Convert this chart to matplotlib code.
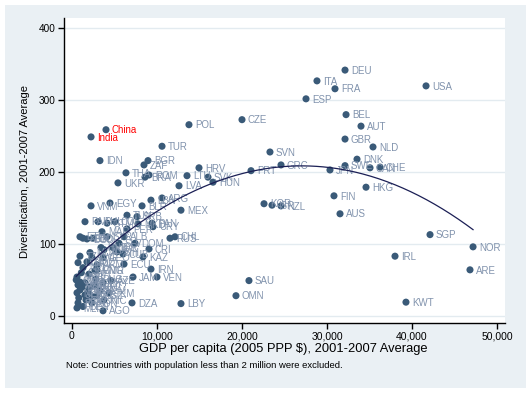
import numpy as np
import matplotlib
matplotlib.use("Agg")
import matplotlib.pyplot as plt
from matplotlib.patches import Rectangle

plt.rcParams['font.family'] = ['Liberation Sans', 'DejaVu Sans']

# ---- data (GDP per capita in $, diversification index) ----
countries = [
    "DEU", "ITA", "FRA", "USA", "ESP", "BEL", "AUT", "GBR", "NLD", "DNK",
    "SWE", "CAN", "CHE", "JPN", "HKG", "FIN", "AUS", "GRC", "SVN", "CZE",
    "PRT", "KOR", "ISR", "NZL", "SGP", "NOR", "ARE", "IRL", "KWT", "SAU",
    "OMN", "LBY", "POL", "TUR", "China", "India", "IDN", "BGR", "ZAF", "THA",
    "ROM", "BRA", "UKR", "HRV", "LTU", "SVK", "HUN", "LVA", "MEX", "ARG",
    "LBN", "BLR", "VNM", "EGY", "PAK", "PHL", "GTM", "COL", "TUN", "SRB",
    "PAN", "MKD", "URY", "PER", "MAR", "ETH", "KEN", "BGD", "BOL", "SYR",
    "ALB", "SLV", "DOM", "RUS", "CHL", "HND", "CRI", "KAZ", "GEO", "ARM",
    "ECU", "MNG", "IRN", "JAM", "VEN", "AZE", "TKM", "DZA", "AGO", "TZA",
    "UGA", "NPL", "MWI", "ZMB", "MDG", "TCD", "GHA", "CMR", "NER", "BFA",
    "MLI", "TGO", "SDN", "BEN", "COD", "RWA", "SEN", "KHM", "CIV", "LAO",
    "YEM", "KGZ", "NIC", "UZB", "PNG", "PRY", "HTI", "MOZ", "ZWE", "MDA",
    "LKA", "JOR", "BIH", "CUB", "GIN", "SLE",
]
gdp = [
    32120, 28820, 30940, 41650, 27530, 32240, 34000, 32120, 35410, 33530,
    32120, 35060, 36240, 30350, 34590, 30820, 31530, 24590, 23290, 20000,
    21060, 22590, 23530, 24590, 42120, 47180, 46820, 38000, 39290, 20820,
    19290, 12820, 13760, 10590, 4000, 2240, 3290, 8940, 8470, 6350,
    9060, 8590, 5410, 14940, 13530, 16000, 16590, 12590, 12820, 10590,
    9290, 8240, 2240, 4470, 1530, 3060, 4120, 5060, 6470, 7650,
    9410, 7760, 9530, 6470, 3530, 940, 1290, 1760, 2470, 4120,
    6120, 5530, 7410, 11530, 12120, 3410, 9060, 8350, 3650, 2940,
    6120, 2710, 9290, 7180, 10000, 4590, 4350, 7060, 3650, 940,
    710, 1290, 590, 940, 710, 1180, 1530, 2940, 590, 710,
    590, 1650, 2350, 1290, 500, 940, 1880, 2120, 1530, 2710,
    3290, 2940, 3760, 2240, 2820, 3650, 2000, 1760, 2350, 2120,
    3760, 4820, 5290, 6000, 1100, 800,
]
divers = [
    342, 327, 316, 320, 302, 280, 264, 246, 235, 218,
    209, 206, 207, 203, 179, 167, 142, 210, 228, 273,
    202, 156, 154, 153, 113, 96, 64, 83, 19, 49,
    28, 17, 266, 236, 259, 249, 216, 216, 210, 199,
    196, 193, 185, 206, 195, 193, 186, 181, 147, 164,
    161, 153, 153, 157, 131, 131, 129, 131, 140, 138,
    129, 128, 124, 121, 117, 110, 108, 107, 108, 110,
    110, 101, 101, 108, 110, 95, 93, 82, 81, 71,
    72, 63, 65, 54, 54, 49, 32, 18, 7, 83,
    74, 67, 54, 47, 43, 40, 46, 64, 32, 18,
    11, 22, 18, 13, 50, 36, 35, 40, 29, 43,
    35, 28, 22, 28, 51, 46, 58, 75, 81, 88,
    92, 95, 89, 86, 60, 25,
]
highlight = ["China", "India"]

# quadratic fit coefficients, highest power first
fit_coef = [-2.185e-7, 0.01181, 49.1]

xticks = [0, 10000, 20000, 30000, 40000, 50000]
xticklabels = ["0", "10,000", "20,000", "30,000", "40,000", "50,000"]
yticks = [0, 100, 200, 300, 400]

# ---- figure ----
W, H = 531, 393
fig = plt.figure(figsize=(W / 100, H / 100), dpi=100)
fig.patch.set_facecolor("white")
fig.patches.append(Rectangle((5 / W, 5 / H), 521 / W, 383 / H,
                             transform=fig.transFigure, facecolor="#eaf0f4",
                             edgecolor="none", zorder=-10))

ax = fig.add_axes([64 / W, 1 - 323 / H, 441 / W, 305 / H])
ax.set_facecolor("white")
ax.set_xlim(-940, 50940)
ax.set_ylim(-10, 414.5)

for yv in yticks:
    ax.axhline(yv, color="#e3ebf0", lw=1.0, zorder=0)

marker_col = "#3a5a78"
label_col = "#8193ad"
ax.scatter(gdp, divers, s=26, color=marker_col, edgecolors="none", zorder=3)

for name, xv, yv in zip(countries, gdp, divers):
    col = "#ff0000" if name in highlight else label_col
    ax.annotate(name, (xv, yv), xytext=(4.2, -0.5), textcoords="offset points",
                ha="left", va="center", fontsize=7, color=col, zorder=4)

xs = np.linspace(min(gdp), max(gdp), 300)
ax.plot(xs, np.polyval(fit_coef, xs), color="#1b1f55", lw=0.9, zorder=5)

for s in ["top", "right"]:
    ax.spines[s].set_visible(False)
for s in ["left", "bottom"]:
    ax.spines[s].set_color("black")
    ax.spines[s].set_linewidth(1.0)

ax.set_xticks(xticks)
ax.set_xticklabels(xticklabels)
ax.set_yticks(yticks)
ax.tick_params(axis="both", direction="out", length=4, width=1, color="black",
               labelsize=7.5, pad=2)
ax.tick_params(axis="y", labelsize=7.2)

fig.text(25 / W, 1 - 172 / H, "Diversification, 2001-2007 Average", rotation=90,
         ha="center", va="center", fontsize=8)
fig.text(283 / W, 1 - 349 / H, "GDP per capita (2005 PPP $), 2001-2007 Average",
         ha="center", va="center", fontsize=9.3)
fig.text(66 / W, 1 - 365 / H,
         "Note: Countries with population less than 2 million were excluded.",
         ha="left", va="center", fontsize=6.8)

fig.savefig("out.png", dpi=100)
